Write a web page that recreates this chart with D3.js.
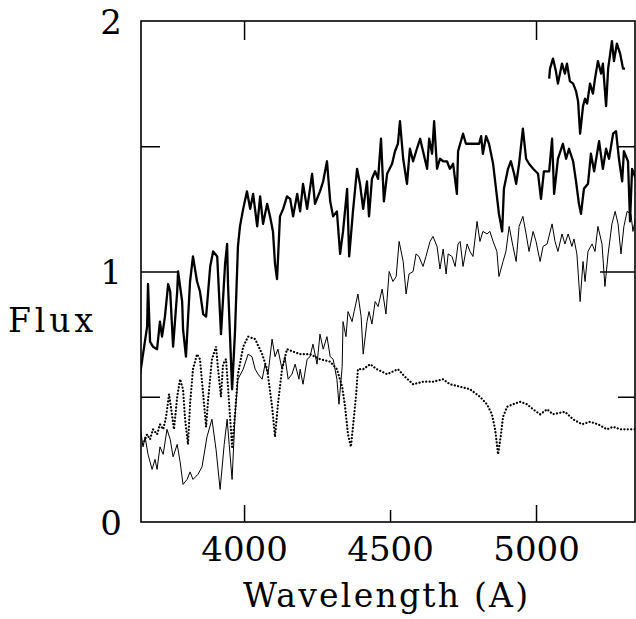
<!DOCTYPE html>
<html lang="en">
<head>
    <meta charset="UTF-8">
    <title>Flux vs Wavelength</title>
    <style>
        body { margin: 0; background: #fff; }
        svg { display: block; }
        .axis text { font-family: "DejaVu Serif", serif; font-size: 34px; fill: #000; }
        .axis line { stroke: #000; stroke-width: 1.5px; }
        .label { font-family: "DejaVu Serif", serif; font-size: 33px; fill: #000; }
    </style>
    <script src="https://d3js.org/d3.v7.min.js"></script>
</head>
<body>
    <svg width="636" height="619"></svg>
    <script>
        // [wavelength (A), flux]
        const spectrumBold = [
            [3644, 0.59], [3654, 0.67], [3668, 0.78], [3671, 0.95], [3678, 0.72], [3688, 0.70],
            [3702, 0.69], [3712, 0.80], [3719, 0.74], [3729, 0.82], [3740, 0.95], [3747, 0.92],
            [3757, 0.70], [3771, 0.92], [3774, 1.00], [3788, 0.88], [3791, 0.77], [3801, 0.66],
            [3815, 0.96], [3825, 1.06], [3839, 0.96], [3849, 0.92], [3860, 0.83], [3870, 0.82],
            [3884, 1.02], [3894, 1.08], [3908, 1.06], [3921, 0.75], [3935, 1.03], [3942, 1.11],
            [3945, 0.95], [3959, 0.53], [3969, 0.76], [3979, 1.10], [3986, 1.18], [3997, 1.25],
            [4010, 1.32], [4021, 1.25], [4031, 1.31], [4045, 1.18], [4055, 1.30], [4065, 1.19],
            [4079, 1.27], [4089, 1.22], [4099, 1.16], [4106, 1.03], [4113, 0.97], [4123, 1.22],
            [4134, 1.25], [4147, 1.30], [4158, 1.29], [4168, 1.22], [4182, 1.31], [4192, 1.24],
            [4202, 1.35], [4216, 1.25], [4233, 1.39], [4243, 1.27], [4260, 1.32], [4271, 1.36],
            [4284, 1.44], [4295, 1.28], [4305, 1.22], [4318, 1.24], [4329, 1.07], [4339, 1.16],
            [4353, 1.33], [4360, 1.06], [4373, 1.24], [4387, 1.41], [4397, 1.35], [4408, 1.25],
            [4421, 1.36], [4428, 1.22], [4438, 1.37], [4449, 1.40], [4459, 1.37], [4469, 1.53],
            [4479, 1.28], [4490, 1.39], [4507, 1.43], [4517, 1.48], [4527, 1.51], [4534, 1.60],
            [4545, 1.45], [4558, 1.35], [4568, 1.49], [4579, 1.44], [4592, 1.49], [4603, 1.53],
            [4613, 1.48], [4627, 1.41], [4634, 1.53], [4644, 1.47], [4651, 1.60], [4661, 1.41],
            [4671, 1.45], [4682, 1.44], [4695, 1.44], [4705, 1.41], [4716, 1.43], [4729, 1.31],
            [4733, 1.48], [4750, 1.55], [4760, 1.51], [4774, 1.51], [4805, 1.51], [4812, 1.54],
            [4818, 1.47], [4829, 1.54], [4839, 1.51], [4853, 1.43], [4863, 1.33], [4873, 1.23],
            [4884, 1.16], [4890, 1.33], [4904, 1.41], [4914, 1.44], [4925, 1.39], [4932, 1.35],
            [4942, 1.43], [4955, 1.57], [4966, 1.45], [4976, 1.43], [4990, 1.41], [5007, 1.39],
            [5017, 1.29], [5027, 1.40], [5045, 1.40], [5055, 1.53], [5062, 1.31], [5075, 1.45],
            [5092, 1.51], [5103, 1.45], [5113, 1.49], [5127, 1.44], [5137, 1.36], [5147, 1.27],
            [5154, 1.23], [5164, 1.33], [5178, 1.35], [5188, 1.47], [5199, 1.40], [5216, 1.52],
            [5229, 1.41], [5240, 1.49], [5250, 1.45], [5264, 1.55], [5274, 1.56], [5284, 1.45],
            [5295, 1.36], [5301, 1.48], [5315, 1.44], [5322, 1.20], [5329, 1.41], [5342, 1.37]
        ];

        const spectrumTop = [
            [5045, 1.77], [5048, 1.81], [5058, 1.85], [5068, 1.80], [5075, 1.75], [5089, 1.83],
            [5099, 1.79], [5106, 1.83], [5116, 1.76], [5127, 1.75], [5137, 1.72], [5144, 1.68],
            [5151, 1.55], [5161, 1.66], [5168, 1.69], [5175, 1.67], [5185, 1.75], [5195, 1.71],
            [5202, 1.77], [5212, 1.84], [5223, 1.79], [5229, 1.83], [5240, 1.66], [5247, 1.81],
            [5260, 1.92], [5267, 1.84], [5277, 1.91], [5288, 1.87], [5298, 1.81], [5305, 1.81]
        ];

        const spectrumThin = [
            [3644, 0.38], [3654, 0.30], [3661, 0.34], [3671, 0.27], [3685, 0.21], [3695, 0.25],
            [3702, 0.21], [3712, 0.30], [3723, 0.27], [3736, 0.37], [3747, 0.33], [3757, 0.26],
            [3771, 0.31], [3781, 0.24], [3791, 0.15], [3805, 0.17], [3815, 0.20], [3825, 0.17],
            [3842, 0.19], [3856, 0.22], [3873, 0.34], [3890, 0.41], [3904, 0.29], [3918, 0.13],
            [3932, 0.31], [3942, 0.41], [3949, 0.31], [3959, 0.17], [3969, 0.42], [3979, 0.57],
            [3997, 0.61], [4014, 0.67], [4027, 0.66], [4038, 0.61], [4048, 0.59], [4062, 0.57],
            [4072, 0.63], [4082, 0.59], [4096, 0.73], [4106, 0.66], [4116, 0.69], [4130, 0.61],
            [4140, 0.66], [4151, 0.57], [4164, 0.59], [4175, 0.63], [4188, 0.57], [4192, 0.61],
            [4202, 0.55], [4216, 0.65], [4226, 0.66], [4236, 0.71], [4250, 0.63], [4260, 0.75],
            [4271, 0.69], [4284, 0.74], [4295, 0.66], [4305, 0.65], [4318, 0.57], [4325, 0.47],
            [4336, 0.62], [4339, 0.80], [4349, 0.74], [4356, 0.84], [4370, 0.80], [4377, 0.84],
            [4390, 0.91], [4401, 0.82], [4408, 0.67], [4421, 0.80], [4428, 0.84], [4438, 0.79],
            [4449, 0.88], [4459, 0.86], [4473, 0.93], [4486, 0.83], [4497, 1.00], [4510, 0.96],
            [4521, 0.98], [4531, 1.12], [4545, 1.04], [4555, 0.91], [4565, 0.99], [4579, 1.00],
            [4589, 1.07], [4599, 1.06], [4613, 1.02], [4623, 1.06], [4637, 1.12], [4647, 1.14],
            [4661, 1.10], [4671, 1.01], [4682, 1.09], [4692, 0.99], [4699, 1.07], [4712, 1.06],
            [4723, 1.02], [4733, 1.11], [4740, 1.12], [4750, 1.02], [4764, 1.11], [4774, 1.08],
            [4784, 1.06], [4798, 1.20], [4808, 1.12], [4818, 1.16], [4832, 1.15], [4842, 1.16],
            [4853, 1.12], [4866, 1.08], [4873, 0.98], [4887, 1.04], [4897, 1.08], [4908, 1.18],
            [4921, 1.10], [4932, 1.04], [4942, 1.18], [4955, 1.22], [4966, 1.15], [4976, 1.08],
            [4990, 1.16], [5000, 1.12], [5014, 1.04], [5024, 1.10], [5038, 1.11], [5055, 1.19],
            [5065, 1.12], [5075, 1.08], [5089, 1.15], [5099, 1.11], [5110, 1.15], [5123, 1.10],
            [5130, 1.13], [5140, 1.07], [5151, 0.88], [5161, 1.04], [5168, 0.96], [5178, 1.08],
            [5192, 1.11], [5202, 1.08], [5212, 1.18], [5226, 1.11], [5236, 0.94], [5247, 1.07],
            [5260, 1.19], [5271, 1.24], [5281, 1.19], [5291, 1.07], [5301, 1.18], [5312, 1.24],
            [5325, 1.23], [5332, 1.16], [5342, 1.22]
        ];

        const spectrumDotted = [
            [3654, 0.31], [3668, 0.35], [3678, 0.33], [3688, 0.37], [3702, 0.35], [3712, 0.39],
            [3723, 0.37], [3733, 0.42], [3743, 0.51], [3753, 0.43], [3760, 0.37], [3771, 0.50],
            [3781, 0.57], [3791, 0.53], [3798, 0.41], [3808, 0.31], [3815, 0.47], [3825, 0.61],
            [3839, 0.67], [3849, 0.65], [3860, 0.51], [3870, 0.38], [3877, 0.49], [3890, 0.65],
            [3904, 0.70], [3911, 0.61], [3921, 0.50], [3928, 0.63], [3938, 0.65], [3945, 0.54],
            [3959, 0.30], [3969, 0.43], [3979, 0.59], [3997, 0.70], [4014, 0.74], [4038, 0.73],
            [4062, 0.67], [4079, 0.61], [4096, 0.46], [4106, 0.34], [4116, 0.47], [4130, 0.61],
            [4147, 0.69], [4168, 0.68], [4192, 0.67], [4226, 0.67], [4260, 0.65], [4295, 0.64],
            [4318, 0.61], [4336, 0.54], [4346, 0.46], [4356, 0.35], [4366, 0.30], [4373, 0.38],
            [4384, 0.51], [4390, 0.61], [4408, 0.61], [4432, 0.63], [4455, 0.61], [4490, 0.59],
            [4527, 0.61], [4551, 0.58], [4579, 0.55], [4613, 0.56], [4647, 0.56], [4682, 0.57],
            [4705, 0.55], [4740, 0.54], [4774, 0.53], [4808, 0.50], [4832, 0.47], [4849, 0.43],
            [4860, 0.37], [4870, 0.27], [4880, 0.35], [4887, 0.42], [4901, 0.46], [4921, 0.47],
            [4945, 0.48], [4969, 0.47], [4990, 0.45], [5014, 0.43], [5038, 0.45], [5058, 0.43],
            [5099, 0.44], [5127, 0.41], [5158, 0.39], [5185, 0.40], [5212, 0.39], [5243, 0.37],
            [5264, 0.38], [5288, 0.37], [5315, 0.37], [5339, 0.37]
        ];

        const xLabelTicks = [4000, 4500, 5000];
        const yLabelTicks = [0, 1, 2];
        const yMinorTicks = [0.5, 1.5];

        const plotLeft = 141, plotRight = 635, plotTop = 21, plotBottom = 522;

        const svg = d3.select("svg");

        const x = d3.scaleLinear().domain([3647, 5339]).range([plotLeft, plotRight]);
        const y = d3.scaleLinear().domain([0, 2]).range([plotBottom, plotTop]);

        svg.append("defs").append("clipPath")
            .attr("id", "plot")
            .append("rect")
            .attr("x", plotLeft).attr("y", plotTop)
            .attr("width", plotRight - plotLeft).attr("height", plotBottom - plotTop);

        const line = d3.line()
            .x(d => x(d[0]))
            .y(d => y(d[1]));

        const curves = svg.append("g").attr("clip-path", "url(#plot)");

        curves.append("path")
            .datum(spectrumDotted)
            .attr("d", line)
            .attr("fill", "none")
            .attr("stroke", "#000")
            .attr("stroke-width", 2.2)
            .attr("stroke-linecap", "round")
            .attr("stroke-dasharray", "0.1 3.3");

        curves.append("path")
            .datum(spectrumThin)
            .attr("d", line)
            .attr("fill", "none")
            .attr("stroke", "#000")
            .attr("stroke-width", 1);

        [spectrumBold, spectrumTop].forEach(s => {
            curves.append("path")
                .datum(s)
                .attr("d", line)
                .attr("fill", "none")
                .attr("stroke", "#000")
                .attr("stroke-width", 2.3)
                .attr("stroke-linejoin", "round");
        });

        // frame
        svg.append("rect")
            .attr("x", plotLeft).attr("y", plotTop)
            .attr("width", plotRight - plotLeft).attr("height", plotBottom - plotTop)
            .attr("fill", "none")
            .attr("stroke", "#000")
            .attr("stroke-width", 1.6);

        function clean(g) {
            g.select(".domain").remove();
            g.attr("font-family", null).attr("font-size", null);
        }

        // bottom axis
        svg.append("g").attr("class", "axis")
            .attr("transform", `translate(0,${plotBottom})`)
            .call(d3.axisBottom(x).tickValues([4000, 5000]).tickSize(-17).tickSizeOuter(0).tickFormat(""))
            .call(clean);
        svg.append("g").attr("class", "axis")
            .attr("transform", `translate(0,${plotBottom})`)
            .call(d3.axisBottom(x).tickValues([4500]).tickSize(-12).tickSizeOuter(0).tickFormat(""))
            .call(clean);
        svg.append("g").attr("class", "axis")
            .attr("transform", `translate(0,${plotBottom})`)
            .call(d3.axisBottom(x).tickValues(xLabelTicks).tickSize(0).tickSizeOuter(0).tickFormat(d3.format("d")))
            .call(clean)
            .call(g => g.selectAll("text").attr("y", 39).attr("dy", null));

        // top axis
        svg.append("g").attr("class", "axis")
            .attr("transform", `translate(0,${plotTop})`)
            .call(d3.axisTop(x).tickValues([4000, 5000]).tickSize(-19).tickSizeOuter(0).tickFormat(""))
            .call(clean);

        // left axis
        svg.append("g").attr("class", "axis")
            .attr("transform", `translate(${plotLeft},0)`)
            .call(d3.axisLeft(y).tickValues([1]).tickSize(-36).tickSizeOuter(0).tickFormat(""))
            .call(clean);
        svg.append("g").attr("class", "axis")
            .attr("transform", `translate(${plotLeft},0)`)
            .call(d3.axisLeft(y).tickValues(yMinorTicks).tickSize(-19).tickSizeOuter(0).tickFormat(""))
            .call(clean);
        svg.append("g").attr("class", "axis")
            .attr("transform", `translate(${plotLeft},0)`)
            .call(d3.axisLeft(y).tickValues(yLabelTicks).tickSize(0).tickSizeOuter(0).tickFormat(d3.format("d")))
            .call(clean)
            .call(g => g.selectAll("text").attr("x", -30).attr("text-anchor", "middle").attr("dy", "0.36em"));

        // right axis
        svg.append("g").attr("class", "axis")
            .attr("transform", `translate(${plotRight},0)`)
            .call(d3.axisRight(y).tickValues([1]).tickSize(-35).tickSizeOuter(0).tickFormat(""))
            .call(clean);
        svg.append("g").attr("class", "axis")
            .attr("transform", `translate(${plotRight},0)`)
            .call(d3.axisRight(y).tickValues(yMinorTicks).tickSize(-17).tickSizeOuter(0).tickFormat(""))
            .call(clean);

        // axis titles
        svg.append("text")
            .attr("class", "label")
            .attr("x", 8).attr("y", 332)
            .attr("textLength", 85)
            .attr("lengthAdjust", "spacing")
            .text("Flux");

        svg.append("text")
            .attr("class", "label")
            .attr("x", 243).attr("y", 607)
            .attr("textLength", 285)
            .attr("lengthAdjust", "spacing")
            .text("Wavelength (A)");
    </script>
</body>
</html>
